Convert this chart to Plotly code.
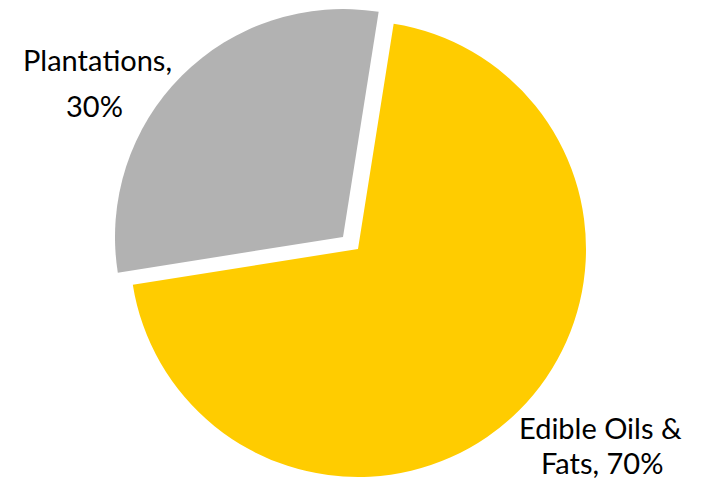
import plotly.graph_objects as go

labels = ["Edible Oils & Fats", "Plantations"]
values = [70, 30]
colors = ["#FFCC00", "#B2B2B2"]
# label lines (text of the data labels, one entry per line)
plantation_lines = ["Planta\u200ctions,", "30%"]
edible_lines = ["Edible Oils &", "Fats, 70%"]

W, H = 704, 487
TRANSP = "rgba(0,0,0,0)"

fig = go.Figure()
# Main slice (Edible Oils & Fats)
fig.add_trace(go.Pie(
    labels=labels, values=values, sort=False, direction="clockwise", rotation=9,
    marker=dict(colors=[colors[0], TRANSP], line=dict(width=0)),
    textinfo="none", hoverinfo="label+percent",
    domain=dict(x=[130 / W, 586 / W], y=[(H - 477) / H, (H - 21) / H]),
))
# Exploded slice (Plantations)
fig.add_trace(go.Pie(
    labels=labels, values=values, sort=False, direction="clockwise", rotation=9,
    marker=dict(colors=[TRANSP, colors[1]], line=dict(width=0)),
    textinfo="none", hoverinfo="label+percent",
    domain=dict(x=[115 / W, 571 / W], y=[(H - 465) / H, (H - 9) / H]),
))

font = dict(family="Lato, Calibri, sans-serif", size=29, color="#000000")
positions = [
    (plantation_lines[0], 97, 59.5),
    (plantation_lines[1], 94, 105),
    (edible_lines[0], 600, 427),
    (edible_lines[1], 602, 462),
]
for txt, px, py in positions:
    fig.add_annotation(x=px / W, y=(H - py) / H, xref="paper", yref="paper",
                       text=txt, showarrow=False, xanchor="center",
                       yanchor="middle", align="center", font=font)

fig.update_layout(
    width=W, height=H, margin=dict(l=0, r=0, t=0, b=0),
    showlegend=False, paper_bgcolor="white", plot_bgcolor="white",
)
fig.write_html("out.html")
